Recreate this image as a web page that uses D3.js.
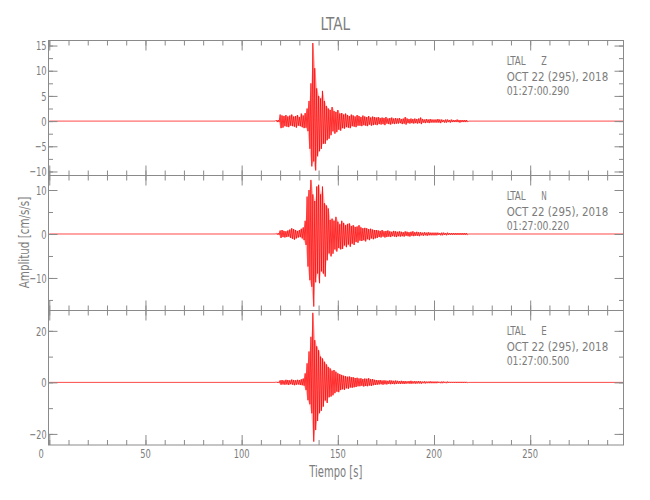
<!DOCTYPE html>
<html><head><meta charset="utf-8">
<script src="https://cdn.jsdelivr.net/npm/d3@7"></script>
<style>
body{margin:0;background:#fff}
text{font-family:"Liberation Sans Narrow","DejaVu Sans Condensed",sans-serif;fill:#7c7c7c}
</style>
</head><body>
<svg id="c" width="650" height="500"></svg>
<script>
// ---------- data ----------
const station = "LTAL";
const components = ["Z", "N", "E"];
const dateLabel = "OCT 22 (295), 2018";
const startTimes = ["01:27:00.290", "01:27:00.220", "01:27:00.500"];
const xLabelText = "Tiempo [s]";
const yLabelText = "Amplitud [cm/s/s]";
const xTicks = [0, 50, 100, 150, 200, 250];
const xDomain = [-0.4, 298.5];
const zTicks = [-10, -5, 0, 5, 10, 15];
const nTicks = [-10, 0, 10];
const eTicks = [-20, 0, 20];
const zDomain = [-10.8, 16.0];
const nDomain = [-17.4, 13.3];
const eDomain = [-24.3, 27.9];
const zMinorStep = 2.5, nMinorStep = 5, eMinorStep = 10;
// per-second max / min amplitude from t = 118 s to 217 s
const traceStart = 118;
const zHi = [0.2,0.2,
 1.3,1.1,1.0,1.2,0.9,1.1,1.3,0.9,1.0,1.2,0.8,1.5,1.1,1.6,
 2.5,4.0,7.5,15.5,10.5,6.5,5.0,4.5,6.0,4.0,3.0,2.5,2.2,2.8,2.0,1.8,2.2,1.5,1.6,1.3,1.5,1.2,1.0,1.3,1.1,0.9,1.2,
 1.0,0.8,1.1,0.9,0.8,1.0,0.7,0.9,0.8,0.7,
 0.8,0.6,0.7,0.6,0.8,0.5,0.6,0.7,0.5,0.6,
 0.5,0.6,0.4,0.5,0.8,0.5,0.4,0.5,0.4,0.5,
 0.4,0.5,0.7,0.4,0.3,0.4,0.3,0.4,0.3,0.3,
 0.3,0.4,0.3,0.3,0.2,0.3,0.3,0.2,0.3,0.2,
 0.2,0.3,0.2,0.2,0.2,0.2,0.2];
const zLo = [-0.2,-0.2,
 -1.4,-1.3,-1.0,-1.1,-1.2,-0.9,-1.0,-1.1,-1.3,-0.9,-1.0,-1.2,-1.4,-1.3,
 -2.0,-5.5,-9.0,-8.0,-9.8,-7.0,-6.0,-5.5,-4.5,-4.5,-3.8,-3.5,-2.8,-2.0,-2.5,-2.2,-1.7,-1.9,-1.4,-1.5,-1.2,-1.3,-1.4,-1.0,-1.1,-1.2,-0.9,
 -0.9,-1.0,-0.8,-0.9,-1.0,-0.7,-0.9,-0.8,-0.7,-0.8,
 -0.6,-0.7,-0.6,-0.8,-0.5,-0.6,-0.7,-0.5,-0.6,-0.5,
 -0.5,-0.4,-0.6,-0.5,-0.7,-0.4,-0.5,-0.4,-0.5,-0.4,
 -0.5,-0.4,-0.6,-0.3,-0.4,-0.3,-0.4,-0.3,-0.3,-0.3,
 -0.3,-0.3,-0.4,-0.2,-0.3,-0.3,-0.2,-0.3,-0.2,-0.2,
 -0.2,-0.2,-0.3,-0.2,-0.2,-0.2,-0.2];
const nHi = [0.15,0.2,
 0.8,0.9,0.7,0.6,0.8,1.0,1.3,1.1,0.9,0.7,0.9,1.2,1.5,3.0,
 8.5,10.0,12.3,9.0,7.5,10.8,11.2,9.0,10.8,7.0,6.5,5.8,3.2,3.5,3.0,3.9,2.8,2.2,3.0,2.5,2.0,2.3,2.4,1.8,2.0,1.6,1.7,
 2.0,1.5,1.3,1.4,1.3,1.1,1.2,1.0,0.9,0.9,
 0.8,0.7,0.9,0.6,0.7,0.8,0.6,0.5,0.7,0.6,
 0.5,0.6,0.5,0.4,0.6,0.5,0.4,0.5,0.6,0.4,
 0.5,0.4,0.4,0.3,0.4,0.3,0.4,0.3,0.3,0.3,
 0.3,0.3,0.2,0.3,0.3,0.2,0.3,0.2,0.2,0.2,
 0.2,0.2,0.2,0.2,0.2,0.2,0.2];
const nLo = [-0.15,-0.2,
 -0.9,-0.7,-0.8,-0.7,-0.6,-0.9,-1.1,-1.3,-1.0,-0.8,-0.7,-1.0,-1.4,-2.5,
 -7.4,-10.5,-12.0,-16.5,-11.0,-9.0,-11.2,-8.5,-9.0,-9.7,-6.0,-4.4,-5.1,-4.5,-3.5,-4.0,-3.2,-3.5,-3.4,-2.6,-3.0,-2.4,-2.9,-2.2,-2.5,-1.8,-2.0,
 -1.5,-1.6,-1.4,-1.7,-1.2,-1.4,-1.0,-1.2,-1.0,-0.9,
 -0.7,-0.8,-0.6,-0.8,-0.7,-0.6,-0.7,-0.5,-0.6,-0.7,
 -0.5,-0.6,-0.5,-0.6,-0.4,-0.5,-0.6,-0.4,-0.5,-0.4,
 -0.4,-0.5,-0.3,-0.4,-0.3,-0.4,-0.3,-0.3,-0.3,-0.3,
 -0.3,-0.2,-0.3,-0.3,-0.2,-0.3,-0.2,-0.2,-0.2,-0.2,
 -0.2,-0.2,-0.2,-0.2,-0.2,-0.2,-0.2];
const eHi = [0.2,0.2,
 0.8,0.9,0.7,1.0,0.9,0.8,1.1,0.9,0.8,1.0,0.9,1.2,1.5,3.5,
 7.4,12.0,17.7,27.0,16.4,14.0,12.5,10.0,9.3,8.0,7.0,6.0,5.4,4.5,4.8,4.1,3.5,3.2,2.9,2.6,2.4,2.2,2.3,2.0,2.0,1.7,1.8,
 1.5,1.6,1.3,1.5,1.4,1.6,1.2,1.3,1.0,0.9,
 0.8,0.9,0.7,0.8,0.7,0.6,0.8,0.7,0.6,0.7,
 0.6,0.5,0.6,0.5,0.5,0.4,0.5,0.6,0.4,0.5,
 0.4,0.5,0.4,0.3,0.4,0.3,0.3,0.4,0.3,0.3,
 0.3,0.3,0.2,0.3,0.3,0.2,0.3,0.2,0.2,0.2,
 0.2,0.2,0.2,0.2,0.2,0.2,0.2];
const eLo = [-0.2,-0.2,
 -0.9,-0.8,-0.9,-0.8,-1.0,-0.7,-0.9,-1.1,-0.9,-0.8,-1.0,-1.1,-1.3,-3.0,
 -6.9,-8.5,-12.0,-23.0,-18.5,-15.0,-12.0,-11.0,-9.4,-7.0,-8.0,-5.8,-5.5,-5.0,-4.2,-3.6,-3.8,-3.0,-2.7,-2.9,-2.3,-2.5,-2.0,-2.1,-1.9,-1.8,-1.5,
 -1.5,-1.3,-1.6,-1.4,-1.5,-1.2,-1.4,-1.1,-1.0,-0.9,
 -0.8,-0.7,-0.9,-0.7,-0.8,-0.6,-0.7,-0.6,-0.7,-0.6,
 -0.5,-0.6,-0.5,-0.6,-0.5,-0.4,-0.5,-0.5,-0.4,-0.5,
 -0.4,-0.4,-0.5,-0.3,-0.4,-0.3,-0.3,-0.3,-0.3,-0.3,
 -0.3,-0.2,-0.3,-0.3,-0.2,-0.3,-0.2,-0.2,-0.2,-0.2,
 -0.2,-0.2,-0.2,-0.2,-0.2,-0.2,-0.2];

// ---------- layout ----------
const W = 650, H = 500;
const left = 48.5, right = 623.5;
const panelEdges = [40.5, 175.5, 310.5, 445];
const axisColor = "#8a8a8a";
const traceColor = "#ff0000";
const digitW = 5.3;

const svg = d3.select("#c");
svg.append("rect").attr("width", W).attr("height", H).attr("fill", "#fff");

const x = d3.scaleLinear().domain(xDomain).range([left, right]);
const xMinor = d3.range(0, 299, 10);

const panels = [
  {hi: zHi, lo: zLo, dom: zDomain, ticks: zTicks, step: zMinorStep},
  {hi: nHi, lo: nLo, dom: nDomain, ticks: nTicks, step: nMinorStep},
  {hi: eHi, lo: eLo, dom: eDomain, ticks: eTicks, step: eMinorStep}
];

const labelLen = s => String(s).length * digitW + (String(s).startsWith("-") || String(s).startsWith("−") ? 1 : 0);

panels.forEach((p, i) => {
  const top = panelEdges[i], bottom = panelEdges[i + 1];
  const y = d3.scaleLinear().domain(p.dom).range([bottom, top]);
  const g = svg.append("g");

  // envelope shading
  const env = p.hi.map((v, k) => ({t: traceStart + k + 0.25, hi: v, lo: p.lo[k]}));
  g.append("path").datum(env)
    .attr("d", d3.area().x(d => x(d.t)).y0(d => y(d.lo)).y1(d => y(d.hi)))
    .attr("fill", traceColor).attr("fill-opacity", 0.3);

  // trace
  const pts = [[0, 0], [traceStart - 0.5, 0]];
  p.hi.forEach((v, k) => {
    pts.push([traceStart + k, v]);
    pts.push([traceStart + k + 0.5, p.lo[k]]);
  });
  pts.push([traceStart + p.hi.length, 0], [xDomain[1], 0]);
  const line = d3.line().x(d => x(d[0])).y(d => y(d[1]));
  g.append("path").attr("d", line(pts)).attr("fill", "none")
    .attr("stroke", traceColor).attr("stroke-width", 0.8).attr("stroke-opacity", 0.9);

  // frame
  g.append("rect").attr("x", left).attr("y", top).attr("width", right - left)
    .attr("height", bottom - top).attr("fill", "none").attr("stroke", axisColor).attr("stroke-width", 1);

  const yMinor = d3.range(Math.ceil(p.dom[0] / p.step) * p.step, p.dom[1] + 1e-9, p.step);
  const mk = (axis, tr) => {
    const a = g.append("g").attr("transform", tr).attr("color", axisColor).call(axis);
    a.select(".domain").remove();
    a.selectAll("text").remove();
  };
  mk(d3.axisBottom(x).tickValues(xMinor).tickSize(-5).tickFormat(""), `translate(0,${bottom})`);
  mk(d3.axisBottom(x).tickValues(xTicks).tickSize(-10).tickFormat(""), `translate(0,${bottom})`);
  mk(d3.axisTop(x).tickValues(xMinor).tickSize(-5).tickFormat(""), `translate(0,${top})`);
  mk(d3.axisTop(x).tickValues(xTicks).tickSize(-10).tickFormat(""), `translate(0,${top})`);
  mk(d3.axisLeft(y).tickValues(yMinor).tickSize(-4.5).tickFormat(""), `translate(${left},0)`);
  mk(d3.axisLeft(y).tickValues(p.ticks).tickSize(-9).tickFormat(""), `translate(${left},0)`);
  mk(d3.axisRight(y).tickValues(yMinor).tickSize(-4.5).tickFormat(""), `translate(${right},0)`);
  mk(d3.axisRight(y).tickValues(p.ticks).tickSize(-9).tickFormat(""), `translate(${right},0)`);

  // y tick labels
  const fmt = d3.format("");
  g.selectAll("text.yl").data(p.ticks).join("text").attr("class", "yl")
    .attr("x", 46.5).attr("y", d => y(d)).attr("dy", "0.36em")
    .attr("text-anchor", "end").attr("font-size", 13)
    .attr("textLength", d => labelLen(fmt(d))).attr("lengthAdjust", "spacingAndGlyphs")
    .text(d => fmt(d));

  // annotation
  const ax = 506.7;
  g.append("text").attr("x", ax).attr("y", top + 24.5).attr("font-size", 13)
    .attr("textLength", 19).attr("lengthAdjust", "spacingAndGlyphs").text(station);
  g.append("text").attr("x", ax + 34.5).attr("y", top + 24.5).attr("font-size", 13)
    .attr("textLength", 5.5).attr("lengthAdjust", "spacingAndGlyphs").text(components[i]);
  g.append("text").attr("x", ax).attr("y", top + 40.5).attr("font-size", 13)
    .attr("textLength", 101.5).attr("lengthAdjust", "spacingAndGlyphs").text(dateLabel);
  g.append("text").attr("x", ax).attr("y", top + 54).attr("font-size", 13)
    .attr("textLength", 62.5).attr("lengthAdjust", "spacingAndGlyphs").text(startTimes[i]);
});

// x tick labels (bottom panel only)
svg.selectAll("text.xl").data(xTicks).join("text").attr("class", "xl")
  .attr("x", d => x(d) - (d === 0 ? 8 : 0)).attr("y", 458)
  .attr("text-anchor", "middle").attr("font-size", 13)
  .attr("textLength", d => labelLen(d)).attr("lengthAdjust", "spacingAndGlyphs").text(d => d);

// titles
svg.append("text").attr("x", 335.3).attr("y", 30).attr("text-anchor", "middle")
  .attr("font-size", 18).attr("textLength", 29.5).attr("lengthAdjust", "spacingAndGlyphs").text(station);
svg.append("text").attr("x", 335.8).attr("y", 476.5).attr("text-anchor", "middle")
  .attr("font-size", 15).attr("textLength", 53).attr("lengthAdjust", "spacingAndGlyphs").text(xLabelText);
svg.append("text").attr("transform", "translate(28.5,242.5) rotate(-90)").attr("text-anchor", "middle")
  .attr("font-size", 14).attr("textLength", 91.5).attr("lengthAdjust", "spacingAndGlyphs").text(yLabelText);
</script>
</body></html>
